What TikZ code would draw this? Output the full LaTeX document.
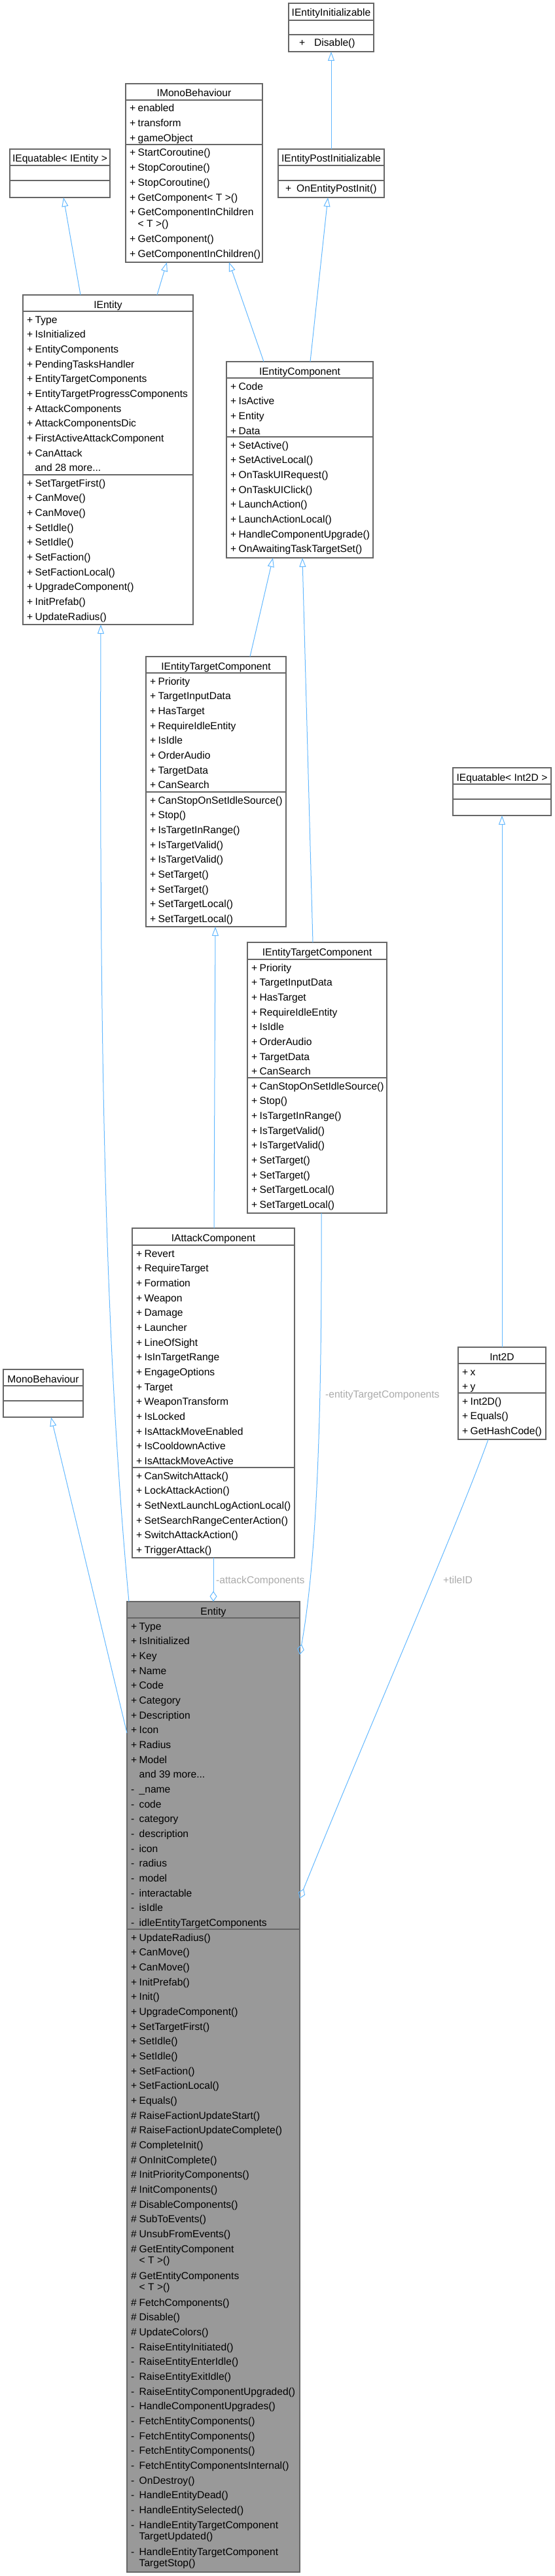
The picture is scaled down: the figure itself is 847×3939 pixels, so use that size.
\documentclass[tikz,border=0pt]{standalone}
\usepackage{fontspec}
\setmainfont{Liberation Sans}
\usetikzlibrary{arrows.meta}
\definecolor{edgeblue}{HTML}{63B8FF}
\definecolor{boxgray}{HTML}{666666}
\definecolor{entgray}{HTML}{999999}
\definecolor{labelgray}{HTML}{AAAAAA}

\begin{document}
\begin{tikzpicture}[x=1pt,y=-1pt,font=\fontsize{15.6}{18}\selectfont,
  classbox/.style={draw=boxgray,line width=1.3pt,fill=white,anchor=north west,
    inner sep=0pt,outer sep=0pt},
  sepline/.style={draw=boxgray,line width=1.3pt},
  cname/.style={anchor=base,inner sep=0pt},
  msym/.style={anchor=base west,inner sep=0pt},
  mtxt/.style={anchor=base west,inner sep=0pt},
  inherit/.style={draw=edgeblue,line width=1pt,-{Triangle[open,length=14pt,width=10pt]}},
  aggr/.style={draw=edgeblue,line width=1pt,-{Diamond[open,length=16pt,width=11pt]}},
  elabel/.style={anchor=base west,inner sep=0pt,text=labelgray}]
  \useasboundingbox (0,0) rectangle (847,3939);

  % IEntityInitializable
  \node[classbox,minimum width=130pt,minimum height=74pt] (iei) at (441,5) {};
  \draw[sepline] ([yshift=-26pt]iei.north west) -- ([yshift=-26pt]iei.north east);
  \draw[sepline] ([yshift=-48pt]iei.north west) -- ([yshift=-48pt]iei.north east);
  \node[cname] (iei-name) at (506,25) {IEntityInitializable};
  \node[msym] (iei-s0) at (457,71) {+};
  \node[mtxt] (iei-t0) at (480,71) {Disable()};

  % IMonoBehaviour
  \node[classbox,minimum width=209pt,minimum height=273pt] (imono) at (192,128) {};
  \draw[sepline] ([yshift=-25pt]imono.north west) -- ([yshift=-25pt]imono.north east);
  \draw[sepline] ([yshift=-93pt]imono.north west) -- ([yshift=-93pt]imono.north east);
  \node[cname] (imono-name) at (296.5,148) {IMonoBehaviour};
  \foreach \s/\t [count=\k from 0] in {+/enabled,+/transform,+/gameObject}
    {\node[msym] (imono-as\k) at (198,{171+\k*22.67}) {\s};
     \node[mtxt] (imono-at\k) at (210.5,{171+\k*22.67}) {\t};}
  \foreach \s/\t [count=\k from 0] in {+/StartCoroutine(),+/StopCoroutine(),
      +/StopCoroutine(),+/GetComponent< T >(),+/GetComponentInChildren}
    {\node[msym] (imono-ms\k) at (198,{239+\k*22.67}) {\s};
     \node[mtxt] (imono-mt\k) at (210.5,{239+\k*22.67}) {\t};}
  \node[mtxt] (imono-mt4b) at (210.5,347) {< T >()};
  \node[msym] (imono-ms5) at (198,370.7) {+};
  \node[mtxt] (imono-mt5) at (210.5,370.7) {GetComponent()};
  \node[msym] (imono-ms6) at (198,393.4) {+};
  \node[mtxt] (imono-mt6) at (210.5,393.4) {GetComponentInChildren()};

  % IEquatable< IEntity >
  \node[classbox,minimum width=153pt,minimum height=74pt] (ieqent) at (15,228) {};
  \draw[sepline] ([yshift=-25pt]ieqent.north west) -- ([yshift=-25pt]ieqent.north east);
  \draw[sepline] ([yshift=-48pt]ieqent.north west) -- ([yshift=-48pt]ieqent.north east);
  \node[cname] (ieqent-name) at (91.5,248) {IEquatable< IEntity >};

  % IEntityPostInitializable
  \node[classbox,minimum width=162pt,minimum height=74pt] (iepi) at (425,228) {};
  \draw[sepline] ([yshift=-25pt]iepi.north west) -- ([yshift=-25pt]iepi.north east);
  \draw[sepline] ([yshift=-48pt]iepi.north west) -- ([yshift=-48pt]iepi.north east);
  \node[cname] (iepi-name) at (506,248) {IEntityPostInitializable};
  \node[msym] (iepi-s0) at (436,294) {+};
  \node[mtxt] (iepi-t0) at (453,294) {OnEntityPostInit()};

  % IEntity
  \node[classbox,minimum width=260pt,minimum height=504pt] (ientity) at (35,451) {};
  \draw[sepline] ([yshift=-25pt]ientity.north west) -- ([yshift=-25pt]ientity.north east);
  \draw[sepline] ([yshift=-275pt]ientity.north west) -- ([yshift=-275pt]ientity.north east);
  \node[cname] (ientity-name) at (165,471) {IEntity};
  \foreach \s/\t [count=\k from 0] in {+/Type,+/IsInitialized,+/EntityComponents,
      +/PendingTasksHandler,+/EntityTargetComponents,+/EntityTargetProgressComponents,
      +/AttackComponents,+/AttackComponentsDic,+/FirstActiveAttackComponent,+/CanAttack}
    {\node[msym] (ientity-as\k) at (41,{494+\k*22.67}) {\s};
     \node[mtxt] (ientity-at\k) at (53.5,{494+\k*22.67}) {\t};}
  \node[mtxt] (ientity-more) at (53.5,720.7) {and 28 more...};
  \foreach \s/\t [count=\k from 0] in {+/SetTargetFirst(),+/CanMove(),+/CanMove(),
      +/SetIdle(),+/SetIdle(),+/SetFaction(),+/SetFactionLocal(),+/UpgradeComponent(),
      +/InitPrefab(),+/UpdateRadius()}
    {\node[msym] (ientity-ms\k) at (41,{744+\k*22.67}) {\s};
     \node[mtxt] (ientity-mt\k) at (53.5,{744+\k*22.67}) {\t};}

  % IEntityComponent
  \node[classbox,minimum width=224pt,minimum height=300pt] (iec) at (346,553) {};
  \draw[sepline] ([yshift=-25pt]iec.north west) -- ([yshift=-25pt]iec.north east);
  \draw[sepline] ([yshift=-115pt]iec.north west) -- ([yshift=-115pt]iec.north east);
  \node[cname] (iec-name) at (458,573) {IEntityComponent};
  \foreach \s/\t [count=\k from 0] in {+/Code,+/IsActive,+/Entity,+/Data}
    {\node[msym] (iec-as\k) at (352,{596+\k*22.67}) {\s};
     \node[mtxt] (iec-at\k) at (364.5,{596+\k*22.67}) {\t};}
  \foreach \s/\t [count=\k from 0] in {+/SetActive(),+/SetActiveLocal(),
      +/OnTaskUIRequest(),+/OnTaskUIClick(),+/LaunchAction(),+/LaunchActionLocal(),
      +/HandleComponentUpgrade(),+/OnAwaitingTaskTargetSet()}
    {\node[msym] (iec-ms\k) at (352,{686+\k*22.67}) {\s};
     \node[mtxt] (iec-mt\k) at (364.5,{686+\k*22.67}) {\t};}

  % IEntityTargetComponent (left)
  \node[classbox,minimum width=214pt,minimum height=413pt] (etcone) at (223,1004) {};
  \draw[sepline] ([yshift=-25pt]etcone.north west) -- ([yshift=-25pt]etcone.north east);
  \draw[sepline] ([yshift=-207pt]etcone.north west) -- ([yshift=-207pt]etcone.north east);
  \node[cname] (etcone-name) at (330,1024) {IEntityTargetComponent};
  \foreach \s/\t [count=\k from 0] in {+/Priority,+/TargetInputData,+/HasTarget,
      +/RequireIdleEntity,+/IsIdle,+/OrderAudio,+/TargetData,+/CanSearch}
    {\node[msym] (etcone-as\k) at (229,{1047+\k*22.67}) {\s};
     \node[mtxt] (etcone-at\k) at (241.5,{1047+\k*22.67}) {\t};}
  \foreach \s/\t [count=\k from 0] in {+/CanStopOnSetIdleSource(),+/Stop(),
      +/IsTargetInRange(),+/IsTargetValid(),+/IsTargetValid(),+/SetTarget(),
      +/SetTarget(),+/SetTargetLocal(),+/SetTargetLocal()}
    {\node[msym] (etcone-ms\k) at (229,{1229+\k*22.67}) {\s};
     \node[mtxt] (etcone-mt\k) at (241.5,{1229+\k*22.67}) {\t};}

  % IEntityTargetComponent (right)
  \node[classbox,minimum width=213pt,minimum height=414pt] (etctwo) at (378,1441) {};
  \draw[sepline] ([yshift=-26pt]etctwo.north west) -- ([yshift=-26pt]etctwo.north east);
  \draw[sepline] ([yshift=-207pt]etctwo.north west) -- ([yshift=-207pt]etctwo.north east);
  \node[cname] (etctwo-name) at (484.5,1461) {IEntityTargetComponent};
  \foreach \s/\t [count=\k from 0] in {+/Priority,+/TargetInputData,+/HasTarget,
      +/RequireIdleEntity,+/IsIdle,+/OrderAudio,+/TargetData,+/CanSearch}
    {\node[msym] (etctwo-as\k) at (384,{1485+\k*22.67}) {\s};
     \node[mtxt] (etctwo-at\k) at (396.5,{1485+\k*22.67}) {\t};}
  \foreach \s/\t [count=\k from 0] in {+/CanStopOnSetIdleSource(),+/Stop(),
      +/IsTargetInRange(),+/IsTargetValid(),+/IsTargetValid(),+/SetTarget(),
      +/SetTarget(),+/SetTargetLocal(),+/SetTargetLocal()}
    {\node[msym] (etctwo-ms\k) at (384,{1666+\k*22.67}) {\s};
     \node[mtxt] (etctwo-mt\k) at (396.5,{1666+\k*22.67}) {\t};}

  % IAttackComponent
  \node[classbox,minimum width=248pt,minimum height=504pt] (iac) at (202,1878) {};
  \draw[sepline] ([yshift=-26pt]iac.north west) -- ([yshift=-26pt]iac.north east);
  \draw[sepline] ([yshift=-366pt]iac.north west) -- ([yshift=-366pt]iac.north east);
  \node[cname] (iac-name) at (326,1898) {IAttackComponent};
  \foreach \s/\t [count=\k from 0] in {+/Revert,+/RequireTarget,+/Formation,+/Weapon,
      +/Damage,+/Launcher,+/LineOfSight,+/IsInTargetRange,+/EngageOptions,+/Target,
      +/WeaponTransform,+/IsLocked,+/IsAttackMoveEnabled,+/IsCooldownActive,
      +/IsAttackMoveActive}
    {\node[msym] (iac-as\k) at (208,{1922+\k*22.67}) {\s};
     \node[mtxt] (iac-at\k) at (220.5,{1922+\k*22.67}) {\t};}
  \foreach \s/\t [count=\k from 0] in {+/CanSwitchAttack(),+/LockAttackAction(),
      +/SetNextLaunchLogActionLocal(),+/SetSearchRangeCenterAction(),
      +/SwitchAttackAction(),+/TriggerAttack()}
    {\node[msym] (iac-ms\k) at (208,{2262+\k*22.67}) {\s};
     \node[mtxt] (iac-mt\k) at (220.5,{2262+\k*22.67}) {\t};}

  % IEquatable< Int2D > and Int2D
  \node[classbox,minimum width=150pt,minimum height=73pt] (ieqint) at (692,1174) {};
  \draw[sepline] ([yshift=-25pt]ieqint.north west) -- ([yshift=-25pt]ieqint.north east);
  \draw[sepline] ([yshift=-48pt]ieqint.north west) -- ([yshift=-48pt]ieqint.north east);
  \node[cname] (ieqint-name) at (767,1194) {IEquatable< Int2D >};
  \node[classbox,minimum width=134pt,minimum height=141pt] (int2d) at (700,2060) {};
  \draw[sepline] ([yshift=-25pt]int2d.north west) -- ([yshift=-25pt]int2d.north east);
  \draw[sepline] ([yshift=-70pt]int2d.north west) -- ([yshift=-70pt]int2d.north east);
  \node[cname] (int2d-name) at (767,2080) {Int2D};
  \foreach \s/\t [count=\k from 0] in {+/x,+/y}
    {\node[msym] (int2d-as\k) at (706,{2103+\k*22.67}) {\s};
     \node[mtxt] (int2d-at\k) at (718.5,{2103+\k*22.67}) {\t};}
  \foreach \s/\t [count=\k from 0] in {+/Int2D(),+/Equals(),+/GetHashCode()}
    {\node[msym] (int2d-ms\k) at (706,{2148+\k*22.67}) {\s};
     \node[mtxt] (int2d-mt\k) at (718.5,{2148+\k*22.67}) {\t};}

  % MonoBehaviour
  \node[classbox,minimum width=122pt,minimum height=73pt] (monob) at (5,2094) {};
  \draw[sepline] ([yshift=-25pt]monob.north west) -- ([yshift=-25pt]monob.north east);
  \draw[sepline] ([yshift=-48pt]monob.north west) -- ([yshift=-48pt]monob.north east);
  \node[cname] (monob-name) at (66,2114) {MonoBehaviour};

  % Entity
  \node[classbox,fill=entgray,minimum width=264pt,minimum height=1484pt] (entity) at (194,2449) {};
  \draw[sepline] ([yshift=-25pt]entity.north west) -- ([yshift=-25pt]entity.north east);
  \draw[sepline] ([yshift=-501pt]entity.north west) -- ([yshift=-501pt]entity.north east);
  \node[cname] (entity-name) at (326,2469) {Entity};
  \foreach \s/\t [count=\k from 0] in {+/Type,+/IsInitialized,+/Key,+/Name,+/Code,
      +/Category,+/Description,+/Icon,+/Radius,+/Model}
    {\node[msym] (entity-as\k) at (200,{2492+\k*22.67}) {\s};
     \node[mtxt] (entity-at\k) at (212.5,{2492+\k*22.67}) {\t};}
  \node[mtxt] (entity-more) at (212.5,2718.7) {and 39 more...};
  \foreach \s/\t [count=\k from 0] in {-/\_name,-/code,-/category,-/description,-/icon,
      -/radius,-/model,-/interactable,-/isIdle,-/idleEntityTargetComponents}
    {\node[msym] (entity-ps\k) at (200,{2741.4+\k*22.67}) {\s};
     \node[mtxt] (entity-pt\k) at (212.5,{2741.4+\k*22.67}) {\t};}
  \foreach \s/\t [count=\k from 0] in {+/UpdateRadius(),+/CanMove(),+/CanMove(),
      +/InitPrefab(),+/Init(),+/UpgradeComponent(),+/SetTargetFirst(),+/SetIdle(),
      +/SetIdle(),+/SetFaction(),+/SetFactionLocal(),+/Equals(),
      \#/RaiseFactionUpdateStart(),\#/RaiseFactionUpdateComplete(),\#/CompleteInit(),
      \#/OnInitComplete(),\#/InitPriorityComponents(),\#/InitComponents(),
      \#/DisableComponents(),\#/SubToEvents(),\#/UnsubFromEvents(),
      \#/GetEntityComponent}
    {\node[msym] (entity-ms\k) at (200,{2968+\k*22.67}) {\s};
     \node[mtxt] (entity-mt\k) at (212.5,{2968+\k*22.67}) {\t};}
  \node[mtxt] (entity-mt21b) at (212.5,3461.4) {< T >()};
  \node[msym] (entity-ms22) at (200,3485.1) {\#};
  \node[mtxt] (entity-mt22) at (212.5,3485.1) {GetEntityComponents};
  \node[mtxt] (entity-mt22b) at (212.5,3502.4) {< T >()};
  \foreach \s/\t [count=\k from 23] in {\#/FetchComponents(),\#/Disable(),
      \#/UpdateColors(),-/RaiseEntityInitiated(),-/RaiseEntityEnterIdle(),
      -/RaiseEntityExitIdle(),-/RaiseEntityComponentUpgraded(),
      -/HandleComponentUpgrades(),-/FetchEntityComponents(),-/FetchEntityComponents(),
      -/FetchEntityComponents(),-/FetchEntityComponentsInternal(),-/OnDestroy(),
      -/HandleEntityDead(),-/HandleEntitySelected(),-/HandleEntityTargetComponent}
    {\node[msym] (entity-ms\k) at (200,{3526.1+(\k-23)*22.67}) {\s};
     \node[mtxt] (entity-mt\k) at (212.5,{3526.1+(\k-23)*22.67}) {\t};}
  \node[mtxt] (entity-mt38b) at (212.5,3883.4) {TargetUpdated()};
  \node[msym] (entity-ms39) at (200,3907.1) {-};
  \node[mtxt] (entity-mt39) at (212.5,3907.1) {HandleEntityTargetComponent};
  \node[mtxt] (entity-mt39b) at (212.5,3924.4) {TargetStop()};

  % inheritance
  \draw[inherit] (iepi.north) -- (iei.south);
  \draw[inherit] ([xshift=88pt]ientity.north west) -- ([xshift=82pt]ieqent.south west);
  \draw[inherit] ([xshift=205pt]ientity.north west) -- ([xshift=63pt]imono.south west);
  \draw[inherit] ([xshift=57pt]iec.north west) -- ([xshift=158pt]imono.south west);
  \draw[inherit] ([xshift=128pt]iec.north west) -- ([xshift=76pt]iepi.south west);
  \draw[inherit] ([xshift=159pt]etcone.north west) -- ([xshift=71pt]iec.south west);
  \draw[inherit] ([xshift=100pt]etctwo.north west) -- ([xshift=116pt]iec.south west);
  \draw[inherit] ([xshift=125pt]iac.north west) -- ([xshift=106pt]etcone.south west);
  \draw[inherit] ([xshift=3pt]entity.north west)
    .. controls (160,2050) and (152,1600) .. ([xshift=119pt]ientity.south west);
  \draw[inherit] ([yshift=-201pt]entity.north west) -- ([xshift=73pt]monob.south west);
  \draw[inherit] ([xshift=67pt]int2d.north west) -- ([xshift=75pt]ieqint.south west);

  % aggregation
  \draw[aggr] ([xshift=124pt]iac.south west) -- ([xshift=132pt]entity.north west);
  \draw[aggr] ([xshift=113pt]etctwo.south west)
    .. controls (492,2150) and (485,2380) .. ([yshift=-81pt]entity.north east);
  \draw[aggr] ([xshift=46pt]int2d.south west)
    .. controls (700,2330) and (560,2650) .. ([yshift=-454pt]entity.north east);
  \node[elabel] (lbl-attack) at (330,2421) {-attackComponents};
  \node[elabel] (lbl-target) at (497,2137) {-entityTargetComponents};
  \node[elabel] (lbl-tile) at (677,2421) {+tileID};
\end{tikzpicture}
\end{document}
